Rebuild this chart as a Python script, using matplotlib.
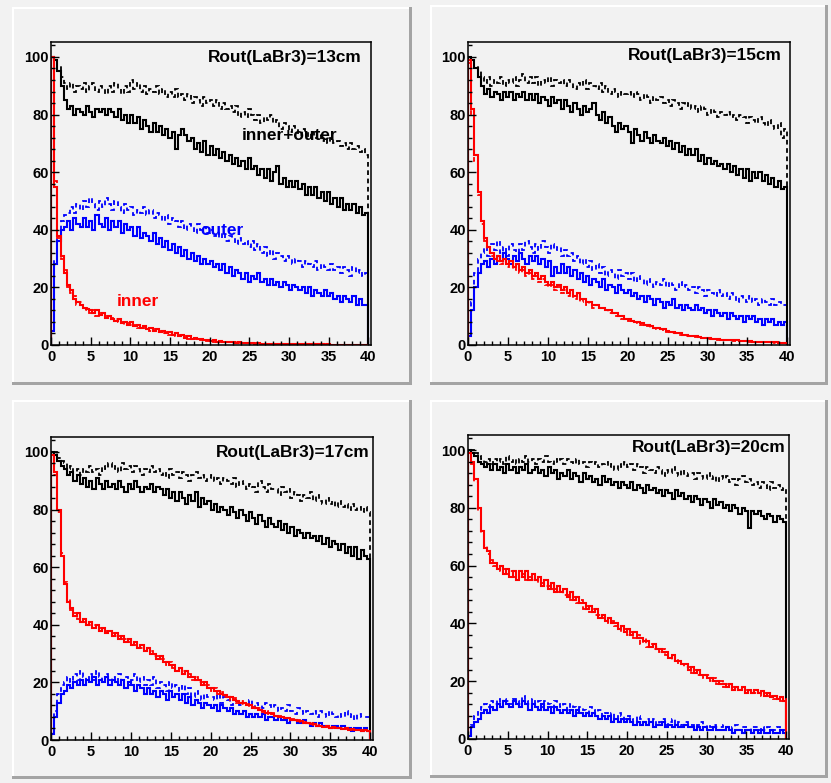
import numpy as np
import matplotlib
matplotlib.use("Agg")
import matplotlib.pyplot as plt
from matplotlib.patches import Rectangle
from matplotlib.ticker import MultipleLocator

plt.rcParams['font.family'] = ['Liberation Sans', 'DejaVu Sans']
plt.rcParams['font.weight'] = 'bold'

# x axis: 0..40, 100 bins of 0.4
x_min, x_max = 0.0, 40.0

radii = ['13', '15', '17', '20']

# ---------------------------------------------------------------- Rout = 13 cm
sum_solid_13 = [
    100, 99, 95, 90, 85, 82, 83, 80, 82, 81,
    80, 83, 81, 79, 82, 81, 82, 80, 82, 81,
    79, 82, 78, 80, 77, 80, 77, 79, 75, 78,
    76, 74, 77, 74, 76, 73, 75, 72, 74, 68,
    73, 75, 73, 71, 72, 68, 70, 67, 71, 66,
    69, 66, 68, 65, 67, 64, 66, 63, 65, 62,
    64, 61, 65, 61, 62, 59, 61, 58, 61, 57,
    60, 62, 56, 58, 55, 57, 55, 57, 54, 56,
    52, 55, 52, 55, 51, 53, 50, 53, 49, 51,
    48, 51, 47, 49, 47, 49, 46, 48, 45, 46]
sum_dash_13 = [
    100, 99, 97, 93, 91, 89, 91, 88, 90, 89,
    91, 88, 90, 91, 88, 90, 89, 87, 90, 88,
    91, 89, 87, 90, 88, 92, 89, 91, 88, 90,
    87, 89, 88, 90, 87, 89, 86, 88, 86, 89,
    86, 87, 85, 87, 84, 86, 85, 83, 86, 84,
    85, 83, 85, 82, 84, 82, 83, 81, 83, 79,
    81, 79, 82, 80, 78, 80, 77, 79, 78, 80,
    77, 78, 75, 77, 76, 74, 76, 75, 73, 75,
    74, 72, 74, 72, 73, 71, 72, 70, 72, 70,
    71, 69, 70, 68, 70, 68, 69, 67, 68, 66]
out_solid_13 = [
    5, 28, 36, 40, 41, 43, 40, 44, 42, 41,
    44, 41, 43, 40, 45, 42, 41, 44, 40, 43,
    41, 43, 39, 42, 40, 41, 38, 41, 37, 39,
    38, 36, 39, 35, 37, 34, 36, 33, 35, 32,
    34, 31, 33, 30, 32, 29, 31, 28, 30, 28,
    29, 27, 28, 26, 28, 25, 27, 24, 26, 25,
    23, 25, 22, 24, 23, 25, 22, 23, 21, 23,
    21, 22, 20, 22, 21, 19, 21, 20, 19, 20,
    18, 20, 17, 19, 18, 17, 19, 17, 18, 16,
    17, 15, 17, 16, 15, 17, 14, 16, 14, 14]
out_dash_13 = [
    4, 30, 38, 43, 45, 46, 48, 46, 49, 47,
    50, 48, 51, 49, 47, 50, 48, 51, 49, 47,
    50, 48, 46, 49, 47, 48, 45, 47, 46, 48,
    45, 47, 44, 46, 45, 43, 45, 42, 44, 43,
    41, 43, 40, 42, 41, 39, 42, 40, 41, 39,
    40, 38, 39, 37, 39, 36, 38, 37, 35, 37,
    35, 36, 34, 36, 33, 35, 32, 34, 31, 33,
    30, 32, 31, 29, 31, 30, 28, 30, 29, 27,
    29, 28, 27, 29, 26, 28, 27, 26, 28, 26,
    27, 25, 27, 26, 24, 27, 25, 26, 24, 25]
in_solid_13 = [
    100, 55, 38, 31, 25, 21, 19, 16, 15, 14,
    13, 12.5, 12, 11, 12, 10.5, 11, 9.5, 10, 9,
    8.5, 9, 7.5, 8, 7, 8, 6.5, 7, 6, 6.5,
    5.5, 6, 5, 5.5, 4.5, 5, 4, 4.5, 3.5, 4,
    3, 3.5, 2.5, 3, 2.2, 2.6, 2, 2.2, 1.6, 1.8,
    1.4, 1.6, 1.2, 1.4, 1, 1.2, 0.9, 1, 0.8, 0.9,
    0.7, 0.8, 0.6, 0.7, 0.5, 0.6, 0.5, 0.5, 0.4, 0.5,
    0.4, 0.4, 0.3, 0.4, 0.3, 0.3, 0.3, 0.3, 0.2, 0.3,
    0.2, 0.2, 0.2, 0.2, 0.2, 0.2, 0.1, 0.2, 0.1, 0.1,
    0.1, 0.1, 0.1, 0.1, 0.1, 0.1, 0.1, 0.1, 0.1, 0.1]
in_dash_13 = [
    100, 57, 37, 30, 26, 20, 18, 17, 14, 15,
    12, 13, 11, 12, 10, 11, 10, 10, 9, 9.5,
    9, 8, 8, 7, 7.5, 7, 7, 6, 6.5, 6,
    6, 5, 5.5, 4.5, 5, 4, 4.5, 3.5, 4, 3,
    3.5, 2.5, 3, 2.2, 2.6, 2, 2.4, 1.8, 1.8, 1.5,
    1.6, 1.2, 1.4, 1.1, 1.2, 1, 1, 0.8, 0.9, 0.7,
    0.8, 0.6, 0.7, 0.5, 0.6, 0.5, 0.5, 0.4, 0.5, 0.4,
    0.4, 0.3, 0.4, 0.3, 0.3, 0.3, 0.2, 0.3, 0.2, 0.2,
    0.2, 0.2, 0.2, 0.1, 0.2, 0.1, 0.2, 0.1, 0.1, 0.1,
    0.1, 0.1, 0.1, 0.1, 0.1, 0.1, 0.1, 0.1, 0.1, 0.1]

# ---------------------------------------------------------------- Rout = 15 cm
sum_solid_15 = [
    100, 99, 96, 93, 90, 87, 89, 86, 88, 87,
    85, 88, 86, 88, 85, 87, 86, 88, 85, 87,
    85, 87, 84, 86, 85, 83, 86, 84, 85, 82,
    85, 83, 81, 84, 82, 80, 83, 81, 82, 84,
    80, 78, 81, 77, 79, 76, 74, 77, 75, 76,
    74, 70, 75, 73, 71, 74, 72, 70, 73, 71,
    70, 72, 69, 71, 68, 70, 67, 69, 66, 68,
    66, 68, 64, 66, 63, 65, 63, 64, 62, 63,
    61, 63, 60, 62, 59, 61, 58, 61, 57, 60,
    58, 60, 57, 59, 56, 58, 55, 57, 54, 55]
sum_dash_15 = [
    100, 99, 97, 95, 93, 91, 93, 90, 92, 91,
    93, 90, 92, 91, 93, 90, 92, 94, 91, 93,
    91, 93, 90, 92, 91, 93, 90, 92, 91, 92,
    90, 92, 91, 89, 91, 90, 92, 89, 91, 90,
    89, 91, 88, 90, 87, 89, 88, 86, 88, 87,
    88, 86, 88, 87, 85, 87, 86, 84, 86, 85,
    86, 84, 85, 83, 85, 84, 82, 84, 83, 84,
    82, 83, 81, 83, 82, 80, 82, 81, 79, 81,
    80, 81, 79, 80, 78, 80, 79, 77, 79, 78,
    77, 79, 77, 76, 78, 76, 75, 77, 72, 75]
out_solid_15 = [
    3, 12, 20, 25, 28, 29, 27, 30, 28, 31,
    29, 32, 30, 28, 31, 29, 32, 30, 28, 31,
    29, 31, 28, 30, 27, 29, 24, 27, 25, 28,
    25, 27, 24, 26, 23, 25, 22, 24, 21, 23,
    22, 20, 23, 19, 21, 20, 18, 21, 19, 18,
    19, 17, 18, 16, 17, 15, 17, 16, 14, 16,
    15, 13, 15, 14, 16, 13, 14, 12, 14, 13,
    12, 14, 12, 13, 11, 12, 10, 12, 11, 10,
    11, 9, 11, 10, 9, 10, 8, 10, 9, 10,
    8, 9, 7, 9, 8, 9, 7, 8, 7, 8]
out_dash_15 = [
    3, 15, 25, 30, 32, 34, 31, 35, 33, 36,
    32, 34, 31, 35, 33, 32, 35, 33, 36, 34,
    32, 35, 33, 36, 34, 32, 35, 33, 34, 31,
    33, 31, 32, 29, 31, 28, 30, 27, 29, 26,
    28, 25, 27, 24, 26, 25, 23, 26, 24, 25,
    23, 25, 22, 24, 23, 21, 23, 22, 20, 22,
    21, 23, 20, 22, 21, 19, 22, 20, 21, 19,
    20, 18, 20, 19, 17, 19, 18, 17, 19, 17,
    18, 16, 18, 17, 15, 17, 16, 15, 17, 15,
    16, 14, 16, 15, 14, 16, 14, 15, 14, 14]
in_solid_15 = [
    99, 82, 66, 53, 43, 37, 34, 32, 30, 31,
    29, 30, 28, 29, 27, 28, 26, 27, 25, 26,
    24, 25, 23, 24, 22, 21, 22, 20, 21, 19,
    20, 18, 19, 17, 18, 16, 16, 15, 15, 14,
    14, 13, 13, 12, 12, 11, 11, 10, 10, 9,
    9, 8.5, 8, 8, 7.5, 7, 7, 6.5, 6, 6,
    5.5, 5.5, 5, 4.5, 4.5, 4, 4, 3.5, 3.5, 3,
    3.2, 3, 2.7, 2.6, 2.4, 2.4, 2.2, 2.1, 2, 1.9,
    1.8, 1.8, 1.7, 1.6, 1.6, 1.5, 1.4, 1.4, 1.3, 1.2,
    1.2, 1.1, 1.1, 1, 1, 0.9, 0.9, 0.8, 0.8, 0.8]
in_dash_15 = [
    98, 80, 64, 52, 42, 36, 33, 31, 30, 29,
    28, 29, 27, 28, 26, 27, 25, 26, 24, 25,
    23, 24, 22, 23, 21, 20, 21, 19, 20, 18,
    19, 17, 18, 16, 17, 15, 16, 14, 15, 13,
    13, 13, 12, 12, 11, 11, 10, 10, 9, 9,
    8.5, 8, 8, 7.5, 7, 7, 6.5, 6, 6, 5.5,
    5.5, 5, 4.5, 4.5, 4, 4, 3.5, 3.5, 3, 3,
    3, 2.8, 2.6, 2.4, 2.3, 2.2, 2.1, 2, 1.9, 1.8,
    1.7, 1.7, 1.6, 1.5, 1.5, 1.4, 1.3, 1.3, 1.2, 1.2,
    1.1, 1.1, 1, 1, 0.9, 0.9, 0.8, 0.8, 0.8, 0.7]

# ---------------------------------------------------------------- Rout = 17 cm
sum_solid_17 = [
    100, 99, 97, 95, 94, 92, 93, 90, 92, 89,
    91, 88, 90, 87, 91, 89, 87, 90, 88, 89,
    87, 90, 88, 86, 89, 87, 90, 88, 86, 88,
    87, 89, 86, 88, 87, 85, 87, 84, 86, 83,
    86, 84, 82, 85, 83, 86, 81, 84, 82, 83,
    80, 82, 79, 81, 80, 78, 81, 79, 77, 80,
    78, 76, 79, 77, 75, 78, 76, 74, 77, 75,
    74, 76, 73, 75, 72, 74, 71, 73, 72, 70,
    72, 70, 71, 69, 71, 68, 70, 67, 69, 68,
    66, 68, 65, 67, 64, 67, 63, 66, 64, 63]
sum_dash_17 = [
    100, 100, 98, 97, 96, 94, 95, 93, 94, 92,
    94, 93, 95, 93, 94, 92, 95, 94, 96, 94,
    95, 93, 96, 94, 95, 93, 95, 94, 92, 94,
    93, 95, 93, 94, 92, 93, 91, 94, 92, 93,
    91, 93, 92, 90, 92, 93, 91, 92, 90, 91,
    92, 90, 91, 89, 91, 90, 89, 91, 88, 90,
    89, 87, 89, 88, 86, 90, 88, 86, 89, 87,
    87, 85, 88, 86, 87, 84, 86, 85, 83, 85,
    84, 86, 83, 85, 83, 82, 84, 82, 83, 81,
    83, 81, 82, 80, 82, 80, 81, 79, 81, 79]
out_solid_17 = [
    2, 8, 13, 16, 17, 19, 18, 20, 19, 21,
    19, 21, 20, 22, 19, 21, 20, 22, 19, 21,
    20, 19, 21, 18, 20, 19, 17, 19, 18, 16,
    18, 16, 17, 15, 17, 16, 14, 17, 15, 16,
    14, 16, 13, 15, 12, 14, 13, 11, 13, 12,
    11, 12, 10, 12, 11, 10, 11, 9, 10, 9,
    10, 8, 9, 8, 9, 8, 9, 7, 8, 8,
    7, 8, 7, 7, 6, 7, 7, 6, 6, 7,
    6, 5, 6, 5, 6, 5, 5, 4, 5, 5,
    4, 5, 4, 4, 3, 4, 4, 3, 4, 3]
out_dash_17 = [
    2, 10, 16, 19, 20, 22, 20, 23, 21, 24,
    22, 20, 23, 21, 24, 22, 20, 23, 21, 22,
    20, 23, 21, 22, 19, 21, 23, 20, 22, 19,
    21, 19, 22, 18, 20, 19, 17, 20, 18, 19,
    17, 19, 16, 18, 15, 17, 16, 14, 16, 15,
    15, 14, 16, 13, 15, 14, 12, 14, 13, 12,
    13, 12, 14, 11, 13, 12, 11, 13, 12, 11,
    12, 10, 11, 10, 12, 10, 9, 11, 10, 9,
    10, 9, 10, 8, 10, 9, 8, 10, 9, 8,
    9, 8, 10, 8, 9, 7, 9, 8, 8, 8]
in_solid_17 = [
    99, 93, 80, 64, 54, 48, 46, 43, 44, 41,
    42, 40, 41, 39, 40, 38, 39, 37, 38, 36,
    37, 35, 36, 34, 35, 33, 34, 32, 33, 31,
    32, 30, 30, 28, 29, 27, 27, 26, 26, 24,
    25, 23, 24, 22, 22, 21, 21, 19, 20, 18,
    18, 17, 17, 16, 15.5, 15, 15, 14, 13.5, 13,
    13, 12, 12, 11, 11, 10.5, 10, 9.5, 9.5, 9,
    8.5, 8, 8, 7.5, 7.5, 7, 7, 6.5, 6.5, 6,
    6, 5.5, 5.5, 5, 5, 4.5, 4.8, 4.3, 4.5, 4,
    4.2, 3.8, 4, 3.5, 3.8, 3.3, 3.6, 3.1, 3.4, 3]
in_dash_17 = [
    99, 92, 79, 65, 55, 49, 45, 44, 42, 42,
    41, 41, 40, 40, 39, 39, 38, 38, 37, 37,
    36, 36, 35, 35, 34, 34, 33, 33, 32, 32,
    31, 31, 29, 29, 28, 28, 26, 27, 25, 25,
    24, 24, 23, 23, 21, 22, 20, 20, 19, 19,
    17, 18, 16, 16.5, 15, 15.5, 14, 14.5, 13, 13.5,
    12.5, 12.5, 11.5, 11.5, 10.5, 11, 9.8, 10, 9, 9.3,
    8.2, 8.5, 7.7, 7.8, 7.2, 7.3, 6.8, 6.8, 6.2, 6.3,
    5.8, 5.8, 5.3, 5.3, 4.8, 4.9, 4.5, 4.6, 4.2, 4.4,
    4, 4.1, 3.7, 3.8, 3.5, 3.6, 3.3, 3.4, 3.1, 3.2]

# ---------------------------------------------------------------- Rout = 20 cm
sum_solid_20 = [
    100, 99, 98, 96, 95, 94, 95, 93, 95, 93,
    94, 92, 95, 93, 94, 92, 94, 93, 95, 92,
    93, 94, 92, 93, 91, 94, 92, 93, 90, 92,
    91, 93, 90, 92, 91, 89, 92, 90, 91, 89,
    90, 88, 91, 89, 90, 88, 89, 87, 89, 88,
    87, 89, 86, 88, 87, 85, 88, 86, 87, 85,
    86, 84, 86, 85, 83, 86, 84, 85, 83, 84,
    82, 84, 83, 81, 83, 82, 80, 83, 81, 82,
    80, 81, 79, 81, 80, 78, 80, 79, 73, 79,
    78, 79, 77, 76, 78, 77, 75, 77, 76, 75]
sum_dash_20 = [
    100, 100, 99, 98, 97, 96, 97, 95, 97, 96,
    97, 95, 98, 96, 97, 95, 97, 96, 98, 96,
    97, 95, 97, 96, 98, 96, 95, 97, 96, 97,
    95, 97, 96, 95, 97, 95, 96, 94, 96, 95,
    96, 94, 95, 96, 94, 95, 93, 95, 94, 96,
    94, 95, 93, 95, 94, 92, 94, 93, 92, 94,
    93, 91, 93, 92, 94, 92, 91, 93, 91, 92,
    92, 90, 92, 91, 90, 92, 90, 91, 89, 91,
    90, 91, 89, 90, 88, 90, 91, 89, 90, 88,
    89, 87, 89, 88, 86, 89, 87, 88, 86, 87]
out_solid_20 = [
    1, 4, 6, 7, 9, 10, 9, 11, 10, 12,
    11, 13, 12, 11, 13, 12, 11, 13, 12, 10,
    12, 11, 10, 12, 10, 11, 9, 11, 10, 9,
    10, 9, 10, 8, 10, 9, 8, 9, 8, 9,
    8, 7, 8, 7, 8, 6, 7, 6, 7, 6,
    7, 6, 5, 6, 5, 6, 5, 6, 4, 5,
    5, 6, 4, 5, 4, 5, 4, 4, 5, 4,
    4, 3, 4, 3, 4, 3, 3, 4, 3, 3,
    3, 4, 3, 2, 3, 3, 2, 3, 3, 2,
    3, 2, 3, 2, 2, 3, 2, 2, 3, 2]
out_dash_20 = [
    1, 5, 8, 10, 11, 12, 11, 13, 12, 14,
    12, 14, 13, 12, 14, 13, 12, 15, 13, 12,
    14, 12, 13, 11, 13, 12, 11, 13, 12, 11,
    12, 10, 12, 11, 9, 11, 10, 9, 11, 10,
    9, 10, 8, 9, 8, 9, 7, 9, 8, 7,
    8, 7, 6, 8, 7, 6, 7, 6, 7, 5,
    6, 7, 5, 6, 7, 5, 6, 5, 6, 5,
    5, 4, 5, 6, 4, 5, 4, 5, 4, 4,
    5, 4, 3, 4, 5, 3, 4, 4, 3, 4,
    4, 3, 4, 3, 4, 3, 3, 4, 3, 3]
in_solid_20 = [
    99, 96, 90, 80, 72, 66, 65, 61, 61, 59,
    60, 57, 59, 56, 58, 55, 58, 56, 58, 55,
    57, 55, 56, 53, 55, 52, 54, 51, 53, 51,
    52, 49, 51, 48, 49, 47, 47, 45, 46, 44,
    45, 42, 43, 41, 42, 40, 40, 38, 39, 37,
    38, 36, 37, 35, 35, 34, 34, 32, 33, 31,
    31, 30, 30, 28, 29, 27, 27, 26, 26, 24,
    25, 23, 24, 22, 22, 21, 21, 20, 20, 19,
    19, 18, 19, 17, 18, 17, 18, 16, 17, 16,
    17, 16, 16.5, 15, 16, 14.5, 15, 14, 14.5, 13]
in_dash_20 = [
    99, 95, 89, 79, 71, 67, 64, 62, 60, 60,
    58, 59, 57, 58, 56, 57, 56, 57, 55, 56,
    55, 56, 54, 54, 53, 53, 52, 52, 51, 52,
    50, 50, 48, 49, 47, 48, 45, 46, 44, 45,
    43, 43, 42, 42, 40, 41, 39, 39, 37, 38,
    36, 37, 35, 36, 33, 35, 32, 33, 31, 32,
    30, 31, 29, 29, 27, 28, 26, 26, 25, 25,
    23, 24, 22, 23, 21, 22, 20, 21, 19, 20,
    18, 19, 18, 18, 17, 17, 17, 17, 16, 16,
    16, 16, 15, 16, 15, 15, 14, 14, 13, 14]

histos = {
    '13': (sum_solid_13, sum_dash_13, out_solid_13, out_dash_13, in_solid_13, in_dash_13),
    '15': (sum_solid_15, sum_dash_15, out_solid_15, out_dash_15, in_solid_15, in_dash_15),
    '17': (sum_solid_17, sum_dash_17, out_solid_17, out_dash_17, in_solid_17, in_dash_17),
    '20': (sum_solid_20, sum_dash_20, out_solid_20, out_dash_20, in_solid_20, in_dash_20),
}

# pad and frame boxes in canvas pixels (left, top, right, bottom)
W, H = 831, 783
pad_boxes = [(12, 7, 412, 385), (430, 5, 828, 385),
             (12, 400, 412, 779), (430, 400, 828, 778)]
frame_boxes = [(51, 42, 371, 345), (468, 42, 790, 345),
               (51, 437, 373, 740), (468, 435, 789, 739)]
title_xy = [(0.972, 0.950), (0.974, 0.954), (0.990, 0.950), (0.988, 0.960)]

PAD_BG = '#f2f2f2'

fig = plt.figure(figsize=(W / 100, H / 100), dpi=100, facecolor=PAD_BG)

# canvas overlay for the bevelled pads
bg = fig.add_axes([0, 0, 1, 1], zorder=-10)
bg.set_xlim(0, W)
bg.set_ylim(H, 0)
bg.axis('off')
for (l, t, r, b) in pad_boxes:
    bg.add_patch(Rectangle((l, t), r - l, b - t, fc='#a4a4a4', ec='none'))
    bg.add_patch(Rectangle((l, t), r - l - 3, b - t - 3, fc='white', ec='none'))
    bg.add_patch(Rectangle((l + 2, t + 2), r - l - 5, b - t - 5, fc=PAD_BG, ec='none'))


def draw_hist(ax, vals, color, ls, lw):
    edges = np.linspace(x_min, x_max, len(vals) + 1)
    ax.stairs(vals, edges, baseline=0, color=color, linestyle=ls, linewidth=lw)


dash = (0, (2.6, 2.0))
for k, rr in enumerate(radii):
    l, t, r, b = frame_boxes[k]
    ax = fig.add_axes([l / W, 1 - b / H, (r - l) / W, (b - t) / H])
    ax.set_facecolor(PAD_BG)

    s_sol, s_dsh, o_sol, o_dsh, i_sol, i_dsh = histos[rr]
    draw_hist(ax, o_dsh, 'blue', dash, 1.3)
    draw_hist(ax, o_sol, 'blue', '-', 1.5)
    draw_hist(ax, s_dsh, 'black', dash, 1.3)
    draw_hist(ax, s_sol, 'black', '-', 1.5)
    draw_hist(ax, i_dsh, 'red', dash, 1.3)
    draw_hist(ax, i_sol, 'red', '-', 1.5)

    ax.set_xlim(0, 40.35)
    ax.set_ylim(0, 105.2)
    ax.xaxis.set_major_locator(MultipleLocator(5))
    ax.xaxis.set_minor_locator(MultipleLocator(1))
    ax.yaxis.set_major_locator(MultipleLocator(20))
    ax.yaxis.set_minor_locator(MultipleLocator(4))
    ax.tick_params(which='both', direction='in', top=False, right=False,
                   labelsize=10.5, width=1.0)
    ax.tick_params(which='major', length=6)
    ax.tick_params(which='minor', length=3)
    ax.tick_params(axis='x', pad=3.5)
    ax.tick_params(axis='y', pad=1.5)
    for lab in ax.get_xticklabels() + ax.get_yticklabels():
        lab.set_fontweight('bold')
    for sp in ax.spines.values():
        sp.set_linewidth(1.1)
        sp.set_zorder(5)

    tx, ty = title_xy[k]
    ax.text(tx, ty, f'Rout(LaBr3)={rr}cm', transform=ax.transAxes,
            ha='right', va='center', fontsize=12.4, fontweight='bold')

    if rr == '13':
        ax.text(24.0, 72.6, 'inner+outer', color='black', fontsize=12.4,
                fontweight='bold', va='center')
        ax.text(18.8, 39.9, 'outer', color='blue', fontsize=12.4,
                fontweight='bold', va='center')
        ax.text(8.3, 15.0, 'inner', color='red', fontsize=12.4,
                fontweight='bold', va='center')

fig.savefig('out.png', dpi=100, facecolor=PAD_BG)
